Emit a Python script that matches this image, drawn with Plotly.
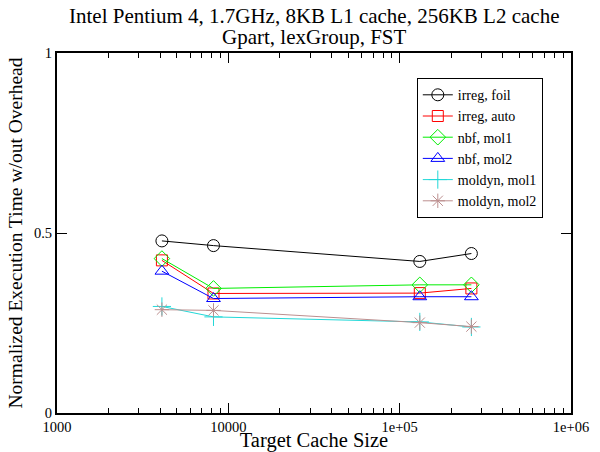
import plotly.graph_objects as go

cache_sizes = [4096, 8192, 131072, 262144]

series_names = ["irreg, foil", "irreg, auto", "nbf, mol1", "nbf, mol2", "moldyn, mol1", "moldyn, mol2"]
irreg_foil = [0.478, 0.465, 0.421, 0.443]
irreg_auto = [0.424, 0.332, 0.333, 0.346]
nbf_mol1 = [0.429, 0.346, 0.356, 0.356]
nbf_mol2 = [0.394, 0.318, 0.323, 0.323]
moldyn_mol1 = [0.296, 0.267, 0.253, 0.239]
moldyn_mol2 = [0.287, 0.285, 0.251, 0.240]
series_values = [irreg_foil, irreg_auto, nbf_mol1, nbf_mol2, moldyn_mol1, moldyn_mol2]

title_lines = ["Intel Pentium 4, 1.7GHz, 8KB L1 cache, 256KB L2 cache", "Gpart, lexGroup, FST"]

colors = ["#000000", "#ff0000", "#00ee00", "#0000ff", "#22d8d8", "#bc8f8f"]
symbols = ["circle-open", "square-open", "diamond-open", "triangle-up-open", "cross-thin-open", "asterisk-open"]
sizes = [12, 11, 12, 12, 13, 12]

x_tickvals = [1000, 10000, 100000, 1000000]
x_ticktext = ["1000", "10000", "1e+05", "1e+06"]
y_tickvals = [0, 0.5, 1]
y_ticktext = ["0", "0.5", "1"]

fig = go.Figure()
for name, vals, c, s, sz in zip(series_names, series_values, colors, symbols, sizes):
    fig.add_trace(go.Scatter(
        x=cache_sizes, y=vals, name=name, mode="lines+markers",
        line=dict(color=c, width=1),
        marker=dict(symbol=s, size=sz, color=c, line=dict(color=c, width=1)),
    ))

minor_vals = [m * 10 ** e for e in range(3, 6) for m in range(2, 10)]

font_family = "Liberation Serif, Times New Roman, serif"

for txt, yy in zip(title_lines, [1.1014, 1.0458]):
    fig.add_annotation(text=txt, xref="paper", yref="paper", x=0.5, y=yy,
                       xanchor="center", yanchor="middle", showarrow=False,
                       font=dict(size=21, family=font_family, color="black"))

fig.update_layout(
    width=600, height=452,
    margin=dict(l=57, r=29, t=53, b=39),
    paper_bgcolor="white", plot_bgcolor="white",
    font=dict(family=font_family, size=14, color="black"),
    showlegend=True,
    legend=dict(
        x=0.70, y=0.93, xanchor="left", yanchor="top",
        bordercolor="black", borderwidth=1, bgcolor="white",
        font=dict(size=14, family=font_family),
        tracegroupgap=0, itemwidth=30,
    ),
    xaxis=dict(
        type="log", range=[3, 6], automargin=False,
        tickmode="array", tickvals=x_tickvals, ticktext=x_ticktext,
        ticks="inside", ticklen=10, tickwidth=1, tickcolor="black",
        minor=dict(tickmode="array", tickvals=minor_vals, ticks="inside", ticklen=5, tickcolor="black", showgrid=False),
        showline=True, linecolor="black", linewidth=2, mirror="allticks",
        showgrid=False, zeroline=False,
        title=dict(text="Target Cache Size", font=dict(size=20.5, family=font_family), standoff=0),
        tickfont=dict(size=14.5, family=font_family),
    ),
    yaxis=dict(
        range=[0, 1], automargin=False,
        tickmode="array", tickvals=y_tickvals, ticktext=y_ticktext,
        ticks="inside", ticklen=10, tickwidth=1, tickcolor="black",
        showline=True, linecolor="black", linewidth=2, mirror="allticks",
        showgrid=False, zeroline=False,
        title=dict(text="Normalized Execution Time w/out Overhead", font=dict(size=19.5, family=font_family), standoff=6),
        tickfont=dict(size=14.5, family=font_family),
    ),
)

fig.write_html("out.html", config={"displayModeBar": False},
               post_script="document.body.style.margin='0px';document.body.style.padding='0px';")
